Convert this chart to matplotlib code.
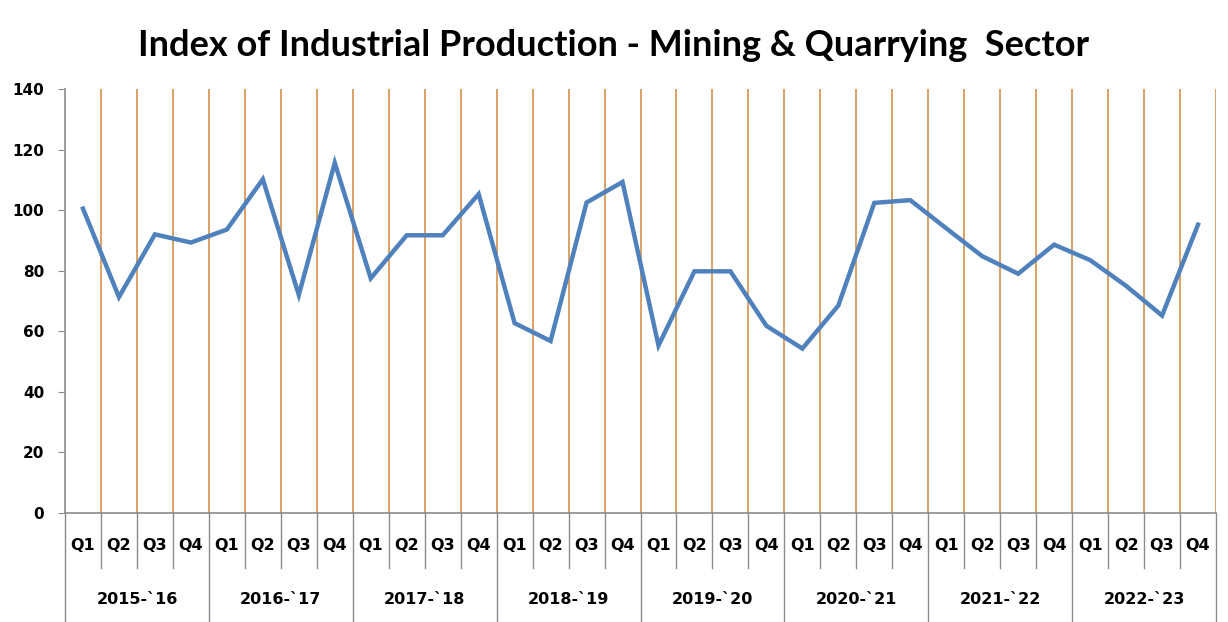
import matplotlib
matplotlib.use("Agg")
import matplotlib.pyplot as plt
import matplotlib.transforms as mtransforms

# Index values, quarter by quarter
years = ["2015-`16", "2016-`17", "2017-`18", "2018-`19",
         "2019-`20", "2020-`21", "2021-`22", "2022-`23"]
quarters = ["Q1", "Q2", "Q3", "Q4"]
index_values = [
    100.5, 71.3, 92.0, 89.3,
    93.6, 110.2, 72.0, 115.6,
    77.5, 91.7, 91.7, 105.3,
    62.7, 56.8, 102.5, 109.3,
    55.3, 79.8, 79.8, 61.8,
    54.3, 68.5, 102.4, 103.3,
    94.0, 84.8, 79.0, 88.6,
    83.5, 75.0, 65.2, 95.2,
]
y_ticks = [0, 20, 40, 60, 80, 100, 120, 140]

LINE_COLOR = "#4F81BD"
GRID_COLOR = "#D89A57"
AXIS_COLOR = "#8C8C8C"

fig = plt.figure(figsize=(12.28, 6.22), dpi=100)
ax = fig.add_axes([65 / 1228, 1 - 513 / 622, (1216 - 65) / 1228, (513 - 89) / 622])

n = len(index_values)
xs = [i + 0.5 for i in range(n)]

# orange vertical gridlines at category boundaries
for b in range(1, n + 1):
    ax.axvline(b, color=GRID_COLOR, lw=1.3, zorder=1)

ax.plot(xs, index_values, color=LINE_COLOR, lw=3.2, zorder=3,
        solid_joinstyle="miter")

ax.set_xlim(0, n)
ax.set_ylim(0, 140)
ax.set_yticks(y_ticks)
ax.set_yticklabels([str(t) for t in y_ticks], fontsize=11, fontweight="bold")
ax.tick_params(axis="y", direction="out", length=5, color=AXIS_COLOR, pad=10)
ax.set_xticks([])

for side in ["top", "right"]:
    ax.spines[side].set_visible(False)
ax.spines["left"].set_color(AXIS_COLOR)
ax.spines["bottom"].set_color(AXIS_COLOR)
ax.spines["left"].set_linewidth(1.2)
ax.spines["bottom"].set_linewidth(1.2)

# two-level category axis
trans = mtransforms.blended_transform_factory(ax.transData, ax.transAxes)
q_bottom = -(568 - 513) / 424
g_bottom = -(622 - 513) / 424
for i, x in enumerate(xs):
    ax.text(x, -(546 - 513) / 424, quarters[i % 4], transform=trans,
            ha="center", va="center", fontsize=11.5, fontweight="bold")
for b in range(0, n + 1):
    bottom = g_bottom if b % 4 == 0 else q_bottom
    ax.plot([b, b], [0, bottom], transform=trans, color=AXIS_COLOR,
            lw=1.0, clip_on=False)
for g, label in enumerate(years):
    ax.text(g * 4 + 2, -(600 - 513) / 424, label, transform=trans,
            ha="center", va="center", fontsize=11.5, fontweight="bold")

fig.text(614 / 1228, 1 - 45 / 622,
         "Index of Industrial Production - Mining & Quarrying  Sector",
         ha="center", va="center", fontsize=26, fontweight="bold",
         family=["Lato", "DejaVu Sans"])

fig.savefig("out.png", dpi=100)
